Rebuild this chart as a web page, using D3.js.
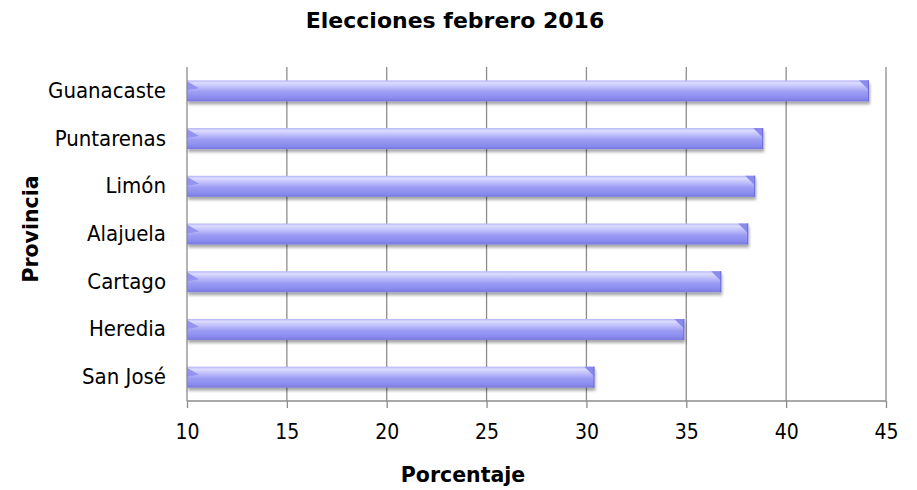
<!DOCTYPE html>
<html>
<head>
<meta charset="utf-8">
<script src="https://cdn.jsdelivr.net/npm/d3@7"></script>
<style>
  html, body { margin: 0; padding: 0; background: #fff; }
  svg { display: block; }
</style>
</head>
<body>
<svg id="chart" width="917" height="490"></svg>
<script>
const categories = ["Guanacaste", "Puntarenas", "Limón", "Alajuela", "Cartago", "Heredia", "San José"];
const values = [44.15, 38.85, 38.45, 38.1, 36.75, 34.9, 30.4];
const xTicks = [10, 15, 20, 25, 30, 35, 40, 45];
const title = "Elecciones febrero 2016";
const xTitle = "Porcentaje";
const yTitle = "Provincia";

const svg = d3.select("#chart");
const W = 917, H = 490;
const m = { left: 187, right: 31, top: 67, bottom: 89 };
const labelFont = "'DejaVu Sans Condensed', 'DejaVu Sans', sans-serif";
const boldFont = "'DejaVu Sans', sans-serif";

const x = d3.scaleLinear().domain([10, 45]).range([m.left, W - m.right]);
const y = d3.scaleBand().domain(categories).range([m.top, H - m.bottom]).paddingInner(0.56).paddingOuter(0.28);

const defs = svg.append("defs");
const grad = defs.append("linearGradient").attr("id", "barGrad").attr("x1", 0).attr("y1", 0).attr("x2", 0).attr("y2", 1);
[[0, "#b4b4f6"], [0.12, "#dcdcff"], [0.3, "#c2c2fc"], [0.55, "#9d9df4"], [0.85, "#8a8aee"], [1, "#7777dd"]]
  .forEach(([o, c]) => grad.append("stop").attr("offset", o).attr("stop-color", c));
const filt = defs.append("filter").attr("id", "shadow").attr("x", "-5%").attr("y", "-30%").attr("width", "110%").attr("height", "180%");
filt.append("feDropShadow").attr("dx", 1).attr("dy", 3).attr("stdDeviation", 1.6).attr("flood-color", "#000").attr("flood-opacity", 0.35);

// gridlines
svg.append("g").selectAll("line").data(xTicks.slice(1)).join("line")
  .attr("x1", d => x(d)).attr("x2", d => x(d))
  .attr("y1", m.top).attr("y2", H - m.bottom)
  .attr("stroke", "#8c8c8c").attr("stroke-width", 1.3);

// bars
const bars = svg.append("g").selectAll("g").data(categories).join("g");
bars.append("rect")
  .attr("x", x(10)).attr("y", d => y(d))
  .attr("width", (d, i) => x(values[i]) - x(10))
  .attr("height", y.bandwidth())
  .attr("fill", "url(#barGrad)")
  .attr("filter", "url(#shadow)");
// right bevel
bars.append("polygon")
  .attr("points", (d, i) => {
    const x1 = x(values[i]), y0 = y(d);
    return `${x1 - 10},${y0} ${x1},${y0} ${x1},${y0 + 10}`;
  })
  .attr("fill", "#8a8aee");
bars.append("line")
  .attr("x1", (d, i) => x(values[i]) - 0.5).attr("x2", (d, i) => x(values[i]) - 0.5)
  .attr("y1", d => y(d)).attr("y2", d => y(d) + y.bandwidth())
  .attr("stroke", "#6c6cd8").attr("stroke-width", 1);
// left bevel
bars.append("polygon")
  .attr("points", d => {
    const x0 = x(10), y0 = y(d);
    return `${x0},${y0 + 1} ${x0 + 12},${y0 + 8} ${x0},${y0 + 10}`;
  })
  .attr("fill", "#9393f1");

// axes lines
svg.append("line").attr("x1", x(10)).attr("x2", x(10)).attr("y1", m.top).attr("y2", H - m.bottom)
  .attr("stroke", "#8c8c8c").attr("stroke-width", 1.3);
svg.append("line").attr("x1", x(10)).attr("x2", x(45)).attr("y1", H - m.bottom).attr("y2", H - m.bottom)
  .attr("stroke", "#8c8c8c").attr("stroke-width", 1.3);

// x axis
const xAxis = d3.axisBottom(x).tickValues(xTicks).tickSize(7).tickPadding(16).tickFormat(d3.format("d"));
const gx = svg.append("g").attr("transform", `translate(0,${H - m.bottom})`).call(xAxis);
gx.select(".domain").remove();
gx.selectAll(".tick line").attr("stroke", "#8c8c8c").attr("stroke-width", 1.3);
gx.selectAll(".tick text").attr("font-family", labelFont).attr("font-size", 21).attr("fill", "#000");

// y axis
const yAxis = d3.axisLeft(y).tickSize(0).tickPadding(21);
const gy = svg.append("g").attr("transform", `translate(${m.left},0)`).call(yAxis);
gy.select(".domain").remove();
gy.selectAll(".tick text").attr("font-family", labelFont).attr("font-size", 22).attr("fill", "#000");

// titles
svg.append("text").attr("x", 455).attr("y", 28).attr("text-anchor", "middle")
  .attr("font-family", boldFont).attr("font-weight", "bold").attr("font-size", 22).text(title);
svg.append("text").attr("x", 463).attr("y", 482).attr("text-anchor", "middle")
  .attr("font-family", boldFont).attr("font-weight", "bold").attr("font-size", 20.5).text(xTitle);
svg.append("text").attr("transform", "translate(38,229) rotate(-90)").attr("text-anchor", "middle")
  .attr("font-family", boldFont).attr("font-weight", "bold").attr("font-size", 20.5).text(yTitle);
</script>
</body>
</html>
